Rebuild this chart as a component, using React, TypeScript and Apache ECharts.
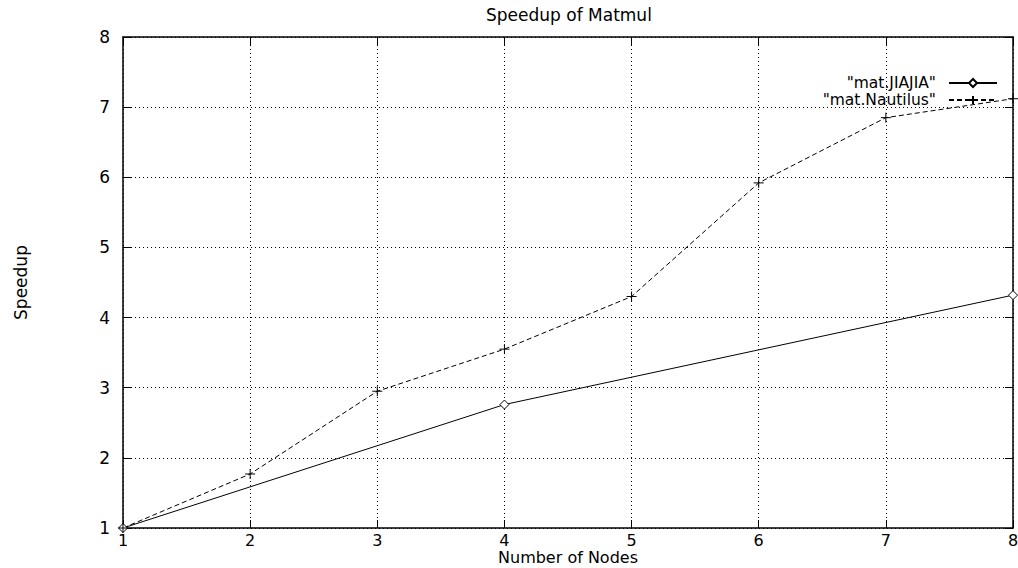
import React, { useEffect, useRef } from "react";
import * as echarts from "echarts";

const nodes = [1, 2, 3, 4, 5, 6, 7, 8];
const nautilus = [1, 1.77, 2.95, 3.55, 4.3, 5.92, 6.85, 7.12];
const jiajiaNodes = [1, 4, 8];
const jiajia = [1, 2.76, 4.32];
const seriesNames = ['"mat.JIAJIA"', '"mat.Nautilus"'];
const titleText = "Speedup of Matmul";
const xName = "Number of Nodes";
const yName = "Speedup";

const FONT = "DejaVu Sans";
const FS = 17;

export default function App() {
  const ref = useRef<HTMLDivElement>(null);
  useEffect(() => {
    const chart = echarts.init(ref.current!, null, { renderer: "svg" });
    const mirrorAxis = {
      min: 1,
      max: 8,
      interval: 1,
      axisLabel: { show: false },
      splitLine: { show: false },
      axisLine: { show: true, lineStyle: { color: "#000", width: 1.5 } },
      axisTick: { show: true, inside: true, length: 8, lineStyle: { color: "#000", width: 1 } },
    };
    chart.setOption({
      animation: false,
      backgroundColor: "#fff",
      textStyle: { fontFamily: FONT, color: "#000" },
      title: {
        text: titleText,
        left: 481,
        top: 1,
        textStyle: { fontFamily: FONT, fontSize: FS, fontWeight: "normal", color: "#000" },
      },
      legend: {
        orient: "vertical",
        align: "right",
        right: 15,
        top: 70,
        itemWidth: 48,
        itemHeight: 10,
        itemGap: 1,
        textStyle: {
          fontFamily: FONT,
          fontSize: 15.5,
          color: "#000",
          lineHeight: 15,
          padding: [0, 8, 0, 0],
        },
        data: seriesNames,
      },
      grid: {
        left: 123,
        right: 5,
        top: 37,
        bottom: 40,
        containLabel: false,
        outerBoundsMode: "none",
      },
      xAxis: [
        {
          type: "value",
          min: 1,
          max: 8,
          interval: 1,
          name: xName,
          nameLocation: "middle",
          nameGap: 22,
          nameMoveOverlap: false,
          nameTextStyle: { fontFamily: FONT, fontSize: 16, color: "#000", lineHeight: 15 },
          axisLabel: { fontFamily: FONT, fontSize: 16, color: "#000", margin: 5, lineHeight: 15 },
          axisLine: { show: true, lineStyle: { color: "#000", width: 1.5 } },
          axisTick: { show: true, inside: true, length: 8, lineStyle: { color: "#000" } },
          splitLine: { show: true, lineStyle: { color: "#000", width: 1, type: [1, 3] } },
        },
        { type: "value", position: "top", ...mirrorAxis },
      ],
      yAxis: [
        {
          type: "value",
          min: 1,
          max: 8,
          interval: 1,
          name: yName,
          nameLocation: "middle",
          nameGap: 94,
          nameTextStyle: { fontFamily: FONT, fontSize: FS, color: "#000" },
          axisLabel: { fontFamily: FONT, fontSize: FS, color: "#000", margin: 13 },
          axisLine: { show: true, lineStyle: { color: "#000", width: 1.5 } },
          axisTick: { show: true, inside: true, length: 8, lineStyle: { color: "#000" } },
          splitLine: { show: true, lineStyle: { color: "#000", width: 1, type: [1, 3] } },
        },
        { type: "value", position: "right", ...mirrorAxis },
      ],
      series: [
        {
          name: seriesNames[0],
          type: "line",
          data: jiajiaNodes.map((n, i) => [n, jiajia[i]]),
          symbol: "diamond",
          symbolSize: 9,
          showAllSymbol: true,
          itemStyle: { color: "#fff", borderColor: "#000", borderWidth: 1 },
          lineStyle: { color: "#000", width: 1, type: "solid" },
          z: 5,
        },
        {
          name: seriesNames[1],
          type: "line",
          data: nodes.map((n, i) => [n, nautilus[i]]),
          symbol: "path://M0,5L10,5M5,0L5,10",
          symbolSize: 10,
          showAllSymbol: true,
          itemStyle: { color: "#000", borderColor: "#000", borderWidth: 1 },
          lineStyle: { color: "#000", width: 1, type: [5, 3] },
          z: 5,
        },
      ],
    });
    return () => chart.dispose();
  }, []);
  return (
    <div
      ref={ref}
      style={{ position: "absolute", left: 0, top: 0, width: 1018, height: 568 }}
    />
  );
}
